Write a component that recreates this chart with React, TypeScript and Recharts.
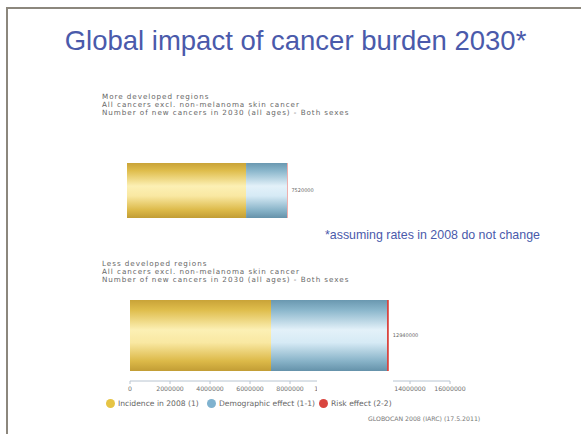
import { BarChart, Bar, XAxis, YAxis, LabelList } from "recharts"

// values (new cancers, both sexes)
const regions = ["More developed regions", "Less developed regions"]
const incidence2008 = [5580000, 7050000]
const demographicEffect = [1920000, 5800000]
const riskEffect = [20000, 90000]
const axisTicks = [0, 2000000, 4000000, 6000000, 8000000, 10000000, 12000000, 14000000, 16000000]

const seriesNames = ["Incidence in 2008 (1)", "Demographic effect (1-1)", "Risk effect (2-2)"]
const seriesColors = ["#e6c444", "#7fb2cf", "#d9453f"]

const subtitleLines = ["All cancers excl. non-melanoma skin cancer", "Number of new cancers in 2030 (all ages) - Both sexes"]
const sourceText = "GLOBOCAN 2008 (IARC) (17.5.2011)"

const rows = regions.map((region, i) => ({
  region,
  incidence: incidence2008[i],
  demographic: demographicEffect[i],
  risk: riskEffect[i],
  total: incidence2008[i] + demographicEffect[i] + riskEffect[i],
}))

const blue = "#4a5aab"
const smallText = {
  fontFamily: "DejaVu Sans",
  fontSize: 7.2,
  letterSpacing: "0.95px",
  color: "#666",
  lineHeight: "8.2px",
  whiteSpace: "nowrap" as const,
}

function Gradients() {
  return (
    <defs>
      <linearGradient id="gold" x1="0" y1="0" x2="0" y2="1">
        <stop offset="0%" stopColor="#c9a338" />
        <stop offset="14%" stopColor="#dfbd4c" />
        <stop offset="42%" stopColor="#fcf0b4" />
        <stop offset="60%" stopColor="#f9e8a2" />
        <stop offset="86%" stopColor="#dcb948" />
        <stop offset="100%" stopColor="#c29d35" />
      </linearGradient>
      <linearGradient id="sky" x1="0" y1="0" x2="0" y2="1">
        <stop offset="0%" stopColor="#6a98b0" />
        <stop offset="14%" stopColor="#8ab6cb" />
        <stop offset="42%" stopColor="#e3f1f9" />
        <stop offset="60%" stopColor="#d6eaf5" />
        <stop offset="86%" stopColor="#88b3c8" />
        <stop offset="100%" stopColor="#6592aa" />
      </linearGradient>
    </defs>
  )
}

function AxisTick({ x, y, payload }: any) {
  return (
    <text x={x} y={y + 4.5} textAnchor="middle" fontSize={6.2} fill="#707070" fontFamily="DejaVu Sans">
      {payload.value}
    </text>
  )
}

function RegionBar({ row, domainMax, showAxis, height, barSize }: any) {
  return (
    <BarChart
      width={410}
      height={height}
      layout="vertical"
      data={[row]}
      margin={{ top: 0, right: 80, bottom: 0, left: 10 }}
      barSize={barSize}
    >
      <Gradients />
      <YAxis type="category" dataKey="region" hide />
      <XAxis
        type="number"
        domain={[0, domainMax]}
        ticks={axisTicks}
        hide={!showAxis}
        height={20}
        interval={0}
        tick={<AxisTick />}
        tickLine={{ stroke: "#b8c4d0" }}
        tickSize={3}
        axisLine={{ stroke: "#b8c4d0" }}
      />
      <Bar dataKey="incidence" stackId="a" fill="url(#gold)" isAnimationActive={false} />
      <Bar dataKey="demographic" stackId="a" fill="url(#sky)" isAnimationActive={false} />
      <Bar dataKey="risk" stackId="a" fill={seriesColors[2]} isAnimationActive={false}>
        <LabelList dataKey="total" position="right" offset={4} style={{ fontSize: 5, fill: "#666", fontFamily: "DejaVu Sans" }} />
      </Bar>
    </BarChart>
  )
}

export default function App() {
  return (
    <div style={{ position: "absolute", left: 0, top: 0, width: 581, height: 434, background: "#fff", overflow: "hidden", fontFamily: "Liberation Sans" }}>
      <div style={{ position: "absolute", left: 6, top: 7, width: 600, height: 450, borderLeft: "2px solid #8c877d", borderTop: "2px solid #8c877d" }} />
      <div style={{ position: "absolute", left: 0, width: 591, top: 25, textAlign: "center", fontSize: 27.5, color: blue }}>
        Global impact of cancer burden 2030*
      </div>

      <div style={{ position: "absolute", left: 102, top: 93, ...smallText }}>
        <div>{regions[0]}</div>
        {subtitleLines.map((l) => <div key={l}>{l}</div>)}
      </div>
      <div style={{ position: "absolute", left: 117, top: 160 }}>
        <RegionBar row={rows[0]} domainMax={15000000} showAxis={false} height={61} barSize={61} />
      </div>

      <div style={{ position: "absolute", left: 325, top: 228, fontSize: 12.4, color: blue }}>
        *assuming rates in 2008 do not change
      </div>

      <div style={{ position: "absolute", left: 102, top: 260, ...smallText }}>
        <div>{regions[1]}</div>
        {subtitleLines.map((l) => <div key={l}>{l}</div>)}
      </div>
      <div style={{ position: "absolute", left: 120, top: 290 }}>
        <RegionBar row={rows[1]} domainMax={16000000} showAxis={true} height={111} barSize={71} />
      </div>
      <div style={{ position: "absolute", left: 317, top: 377, width: 76, height: 16, background: "#fff" }} />

      <div style={{ position: "absolute", left: 106, top: 399, display: "flex", fontFamily: "DejaVu Sans", fontSize: 7.6, color: "#666" }}>
        {seriesNames.map((name, i) => (
          <div key={name} style={{ display: "flex", alignItems: "center", width: [101, 112, 80][i] }}>
            <span style={{ width: 9, height: 9, borderRadius: "50%", background: seriesColors[i], marginRight: 3, display: "inline-block" }} />
            {name}
          </div>
        ))}
      </div>
      <div style={{ position: "absolute", left: 368, top: 415, fontFamily: "DejaVu Sans", fontSize: 6.2, color: "#777", whiteSpace: "nowrap" }}>
        {sourceText}
      </div>
    </div>
  )
}
